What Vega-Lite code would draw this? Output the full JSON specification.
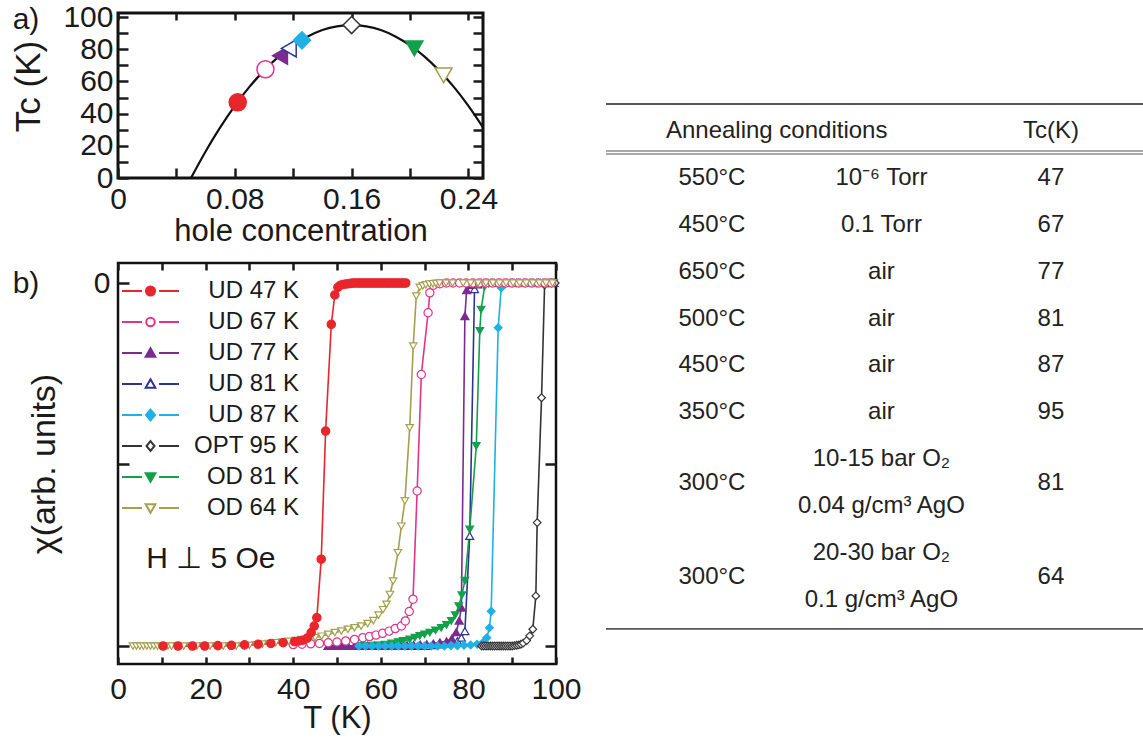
{
  "$schema": "https://vega.github.io/schema/vega-lite/v6.json",
  "padding": {"left": 10, "top": 0, "right": 0, "bottom": 0},
  "background": "white",
  "config": {
    "font": "Liberation Sans",
    "view": {"stroke": null},
    "axis": {"grid": false, "domain": false, "zindex": 1, "labelFont": "Liberation Sans", "titleFont": "Liberation Sans", "labelColor": "#1a1a1a", "titleColor": "#1a1a1a", "tickColor": "#1a1a1a", "tickWidth": 2.5, "labelFontSize": 30, "titleFontSize": 31, "titleFontWeight": "normal", "labelFlush": false, "labelOverlap": false},
    "legend": {"labelFont": "Liberation Sans", "labelFontSize": 24, "labelColor": "#1a1a1a"},
    "text": {"font": "Liberation Sans"}
  },
  "datasets": {
    "curve": [
      {"p": 0.05, "Tc": 0}, {"p": 0.06, "Tc": 16.5}, {"p": 0.07, "Tc": 31.4}, {"p": 0.08, "Tc": 44.8}, {"p": 0.09, "Tc": 56.6}, {"p": 0.1, "Tc": 66.7}, {"p": 0.11, "Tc": 75.4}, {"p": 0.12, "Tc": 82.4}, {"p": 0.13, "Tc": 87.9}, {"p": 0.14, "Tc": 91.9}, {"p": 0.15, "Tc": 94.2}, {"p": 0.16, "Tc": 95}, {"p": 0.17, "Tc": 94.2}, {"p": 0.18, "Tc": 91.9}, {"p": 0.19, "Tc": 87.9}, {"p": 0.2, "Tc": 82.4}, {"p": 0.21, "Tc": 75.4}, {"p": 0.22, "Tc": 66.7}, {"p": 0.23, "Tc": 56.6}, {"p": 0.24, "Tc": 44.8}, {"p": 0.25, "Tc": 31.4}
    ],
    "tc": [
      {"s": "UD 47 K", "p": 0.082, "Tc": 47}, {"s": "UD 67 K", "p": 0.101, "Tc": 67.5}, {"s": "UD 77 K", "p": 0.111, "Tc": 76}, {"s": "UD 81 K", "p": 0.117, "Tc": 80.5}, {"s": "UD 87 K", "p": 0.126, "Tc": 85.5}, {"s": "OPT 95 K", "p": 0.16, "Tc": 95}, {"s": "OD 81 K", "p": 0.203, "Tc": 80.5}, {"s": "OD 64 K", "p": 0.223, "Tc": 63.8}
    ],
    "series": [
      {"s": "UD 47 K"}, {"s": "UD 67 K"}, {"s": "UD 77 K"}, {"s": "UD 81 K"}, {"s": "UD 87 K"}, {"s": "OPT 95 K"}, {"s": "OD 81 K"}, {"s": "OD 64 K"}
    ],
    "notes": [
      {"T": 21.2, "c": -0.76, "t": "H ⊥ 5 Oe"}, {"T": -21, "c": -0.003, "t": "b)"}
    ],
    "table": [
      {"col": "temp", "line": 0, "text": "Annealing conditions"}, {"col": "tc", "line": 0, "text": "Tc(K)"},
      {"col": "temp", "line": 1, "text": "550°C"}, {"col": "cond", "line": 1, "text": "10⁻⁶ Torr"}, {"col": "tc", "line": 1, "text": "47"},
      {"col": "temp", "line": 2, "text": "450°C"}, {"col": "cond", "line": 2, "text": "0.1 Torr"}, {"col": "tc", "line": 2, "text": "67"},
      {"col": "temp", "line": 3, "text": "650°C"}, {"col": "cond", "line": 3, "text": "air"}, {"col": "tc", "line": 3, "text": "77"},
      {"col": "temp", "line": 4, "text": "500°C"}, {"col": "cond", "line": 4, "text": "air"}, {"col": "tc", "line": 4, "text": "81"},
      {"col": "temp", "line": 5, "text": "450°C"}, {"col": "cond", "line": 5, "text": "air"}, {"col": "tc", "line": 5, "text": "87"},
      {"col": "temp", "line": 6, "text": "350°C"}, {"col": "cond", "line": 6, "text": "air"}, {"col": "tc", "line": 6, "text": "95"},
      {"col": "temp", "line": 7.5, "text": "300°C"}, {"col": "cond", "line": 7, "text": "10-15 bar O₂"}, {"col": "cond", "line": 8, "text": "0.04 g/cm³ AgO"}, {"col": "tc", "line": 7.5, "text": "81"},
      {"col": "temp", "line": 9.5, "text": "300°C"}, {"col": "cond", "line": 9, "text": "20-30 bar O₂"}, {"col": "cond", "line": 10, "text": "0.1 g/cm³ AgO"}, {"col": "tc", "line": 9.5, "text": "64"}
    ],
    "chi": [
      {"s": "UD 81 K", "T": 48, "c": -1}, {"s": "UD 81 K", "T": 49.5, "c": -1}, {"s": "UD 81 K", "T": 51, "c": -1}, {"s": "UD 81 K", "T": 52.5, "c": -1}, {"s": "UD 81 K", "T": 54, "c": -1}, {"s": "UD 81 K", "T": 55.5, "c": -1}, {"s": "UD 81 K", "T": 57, "c": -1}, {"s": "UD 81 K", "T": 58.5, "c": -1}, {"s": "UD 81 K", "T": 60, "c": -1}, {"s": "UD 81 K", "T": 61.5, "c": -1}, {"s": "UD 81 K", "T": 63, "c": -1}, {"s": "UD 81 K", "T": 64.5, "c": -1}, {"s": "UD 81 K", "T": 66, "c": -1}, {"s": "UD 81 K", "T": 67.5, "c": -1}, {"s": "UD 81 K", "T": 69, "c": -1}, {"s": "UD 81 K", "T": 70.5, "c": -1}, {"s": "UD 81 K", "T": 72, "c": -0.998}, {"s": "UD 81 K", "T": 73.5, "c": -0.996}, {"s": "UD 81 K", "T": 75, "c": -0.993}, {"s": "UD 81 K", "T": 76.5, "c": -0.99}, {"s": "UD 81 K", "T": 77.5, "c": -0.986}, {"s": "UD 81 K", "T": 78.4, "c": -0.977}, {"s": "UD 81 K", "T": 79.2, "c": -0.959}, {"s": "UD 81 K", "T": 80.3, "c": -0.697}, {"s": "UD 81 K", "T": 81.4, "c": -0.017}, {"s": "UD 81 K", "T": 82.1, "c": -0.004}, {"s": "UD 81 K", "T": 83.5, "c": 0}, {"s": "UD 81 K", "T": 85, "c": 0}, {"s": "UD 81 K", "T": 86.5, "c": 0}, {"s": "UD 81 K", "T": 88, "c": 0}, {"s": "UD 81 K", "T": 89.5, "c": 0}, {"s": "UD 81 K", "T": 91, "c": 0}, {"s": "UD 81 K", "T": 92.5, "c": 0}, {"s": "UD 81 K", "T": 94, "c": 0}, {"s": "UD 81 K", "T": 95.5, "c": 0}, {"s": "UD 81 K", "T": 97, "c": 0}, {"s": "UD 81 K", "T": 98.5, "c": 0}, {"s": "UD 81 K", "T": 99.5, "c": 0},
      {"s": "UD 77 K", "T": 48, "c": -1}, {"s": "UD 77 K", "T": 49.5, "c": -1}, {"s": "UD 77 K", "T": 51, "c": -1}, {"s": "UD 77 K", "T": 52.5, "c": -1}, {"s": "UD 77 K", "T": 54, "c": -1}, {"s": "UD 77 K", "T": 55.5, "c": -1}, {"s": "UD 77 K", "T": 57, "c": -1}, {"s": "UD 77 K", "T": 58.5, "c": -1}, {"s": "UD 77 K", "T": 60, "c": -1}, {"s": "UD 77 K", "T": 61.5, "c": -1}, {"s": "UD 77 K", "T": 63, "c": -1}, {"s": "UD 77 K", "T": 64.5, "c": -0.999}, {"s": "UD 77 K", "T": 66, "c": -0.998}, {"s": "UD 77 K", "T": 67.5, "c": -0.997}, {"s": "UD 77 K", "T": 69, "c": -0.996}, {"s": "UD 77 K", "T": 70.5, "c": -0.995}, {"s": "UD 77 K", "T": 72, "c": -0.993}, {"s": "UD 77 K", "T": 73.5, "c": -0.99}, {"s": "UD 77 K", "T": 75, "c": -0.987}, {"s": "UD 77 K", "T": 76.2, "c": -0.98}, {"s": "UD 77 K", "T": 77.2, "c": -0.962}, {"s": "UD 77 K", "T": 77.9, "c": -0.93}, {"s": "UD 77 K", "T": 78.4, "c": -0.894}, {"s": "UD 77 K", "T": 79.2, "c": -0.091}, {"s": "UD 77 K", "T": 79.6, "c": -0.02}, {"s": "UD 77 K", "T": 80.3, "c": -0.005}, {"s": "UD 77 K", "T": 81.5, "c": 0}, {"s": "UD 77 K", "T": 83, "c": 0}, {"s": "UD 77 K", "T": 84.5, "c": 0}, {"s": "UD 77 K", "T": 86, "c": 0}, {"s": "UD 77 K", "T": 87.5, "c": 0}, {"s": "UD 77 K", "T": 89, "c": 0}, {"s": "UD 77 K", "T": 90.5, "c": 0}, {"s": "UD 77 K", "T": 92, "c": 0}, {"s": "UD 77 K", "T": 93.5, "c": 0}, {"s": "UD 77 K", "T": 95, "c": 0}, {"s": "UD 77 K", "T": 96.5, "c": 0}, {"s": "UD 77 K", "T": 98, "c": 0}, {"s": "UD 77 K", "T": 99.5, "c": 0},
      {"s": "OD 81 K", "T": 55, "c": -1}, {"s": "OD 81 K", "T": 56.5, "c": -1}, {"s": "OD 81 K", "T": 58, "c": -0.999}, {"s": "OD 81 K", "T": 59.5, "c": -0.998}, {"s": "OD 81 K", "T": 61, "c": -0.996}, {"s": "OD 81 K", "T": 62.5, "c": -0.993}, {"s": "OD 81 K", "T": 64, "c": -0.989}, {"s": "OD 81 K", "T": 65.1, "c": -0.986}, {"s": "OD 81 K", "T": 66.6, "c": -0.982}, {"s": "OD 81 K", "T": 67.8, "c": -0.977}, {"s": "OD 81 K", "T": 68.9, "c": -0.972}, {"s": "OD 81 K", "T": 70, "c": -0.968}, {"s": "OD 81 K", "T": 71.2, "c": -0.963}, {"s": "OD 81 K", "T": 72.5, "c": -0.957}, {"s": "OD 81 K", "T": 73.8, "c": -0.95}, {"s": "OD 81 K", "T": 75, "c": -0.942}, {"s": "OD 81 K", "T": 76.1, "c": -0.931}, {"s": "OD 81 K", "T": 77, "c": -0.915}, {"s": "OD 81 K", "T": 77.8, "c": -0.89}, {"s": "OD 81 K", "T": 78.5, "c": -0.86}, {"s": "OD 81 K", "T": 79.2, "c": -0.82}, {"s": "OD 81 K", "T": 80.3, "c": -0.679}, {"s": "OD 81 K", "T": 81.8, "c": -0.449}, {"s": "OD 81 K", "T": 82.6, "c": -0.132}, {"s": "OD 81 K", "T": 82.9, "c": -0.073}, {"s": "OD 81 K", "T": 83.7, "c": -0.01}, {"s": "OD 81 K", "T": 84.6, "c": -0.002}, {"s": "OD 81 K", "T": 86, "c": 0}, {"s": "OD 81 K", "T": 87.5, "c": 0}, {"s": "OD 81 K", "T": 89, "c": 0}, {"s": "OD 81 K", "T": 90.5, "c": 0}, {"s": "OD 81 K", "T": 92, "c": 0}, {"s": "OD 81 K", "T": 93.5, "c": 0}, {"s": "OD 81 K", "T": 95, "c": 0}, {"s": "OD 81 K", "T": 96.5, "c": 0}, {"s": "OD 81 K", "T": 98, "c": 0}, {"s": "OD 81 K", "T": 99.5, "c": 0},
      {"s": "UD 87 K", "T": 55, "c": -1}, {"s": "UD 87 K", "T": 56.5, "c": -1}, {"s": "UD 87 K", "T": 58, "c": -1}, {"s": "UD 87 K", "T": 59.5, "c": -1}, {"s": "UD 87 K", "T": 61, "c": -1}, {"s": "UD 87 K", "T": 62.5, "c": -1}, {"s": "UD 87 K", "T": 64, "c": -1}, {"s": "UD 87 K", "T": 65.5, "c": -1}, {"s": "UD 87 K", "T": 67, "c": -1}, {"s": "UD 87 K", "T": 68.5, "c": -1}, {"s": "UD 87 K", "T": 70, "c": -1}, {"s": "UD 87 K", "T": 71.5, "c": -1}, {"s": "UD 87 K", "T": 73, "c": -1}, {"s": "UD 87 K", "T": 74.5, "c": -1}, {"s": "UD 87 K", "T": 76, "c": -0.999}, {"s": "UD 87 K", "T": 77.5, "c": -0.999}, {"s": "UD 87 K", "T": 79, "c": -0.998}, {"s": "UD 87 K", "T": 80.5, "c": -0.997}, {"s": "UD 87 K", "T": 82, "c": -0.995}, {"s": "UD 87 K", "T": 83.3, "c": -0.991}, {"s": "UD 87 K", "T": 84.2, "c": -0.977}, {"s": "UD 87 K", "T": 84.8, "c": -0.95}, {"s": "UD 87 K", "T": 85.2, "c": -0.904}, {"s": "UD 87 K", "T": 86.8, "c": -0.123}, {"s": "UD 87 K", "T": 87.5, "c": -0.013}, {"s": "UD 87 K", "T": 88.3, "c": -0.003}, {"s": "UD 87 K", "T": 89.5, "c": 0}, {"s": "UD 87 K", "T": 91, "c": 0}, {"s": "UD 87 K", "T": 92.5, "c": 0}, {"s": "UD 87 K", "T": 94, "c": 0}, {"s": "UD 87 K", "T": 95.5, "c": 0}, {"s": "UD 87 K", "T": 97, "c": 0}, {"s": "UD 87 K", "T": 98.5, "c": 0}, {"s": "UD 87 K", "T": 99.7, "c": 0},
      {"s": "OPT 95 K", "T": 83, "c": -1}, {"s": "OPT 95 K", "T": 83.5, "c": -1}, {"s": "OPT 95 K", "T": 84, "c": -1}, {"s": "OPT 95 K", "T": 84.5, "c": -1}, {"s": "OPT 95 K", "T": 85, "c": -1}, {"s": "OPT 95 K", "T": 85.5, "c": -1}, {"s": "OPT 95 K", "T": 86, "c": -1}, {"s": "OPT 95 K", "T": 86.5, "c": -1}, {"s": "OPT 95 K", "T": 87, "c": -1}, {"s": "OPT 95 K", "T": 87.5, "c": -1}, {"s": "OPT 95 K", "T": 88, "c": -1}, {"s": "OPT 95 K", "T": 88.5, "c": -1}, {"s": "OPT 95 K", "T": 89, "c": -1}, {"s": "OPT 95 K", "T": 89.5, "c": -1}, {"s": "OPT 95 K", "T": 90, "c": -1}, {"s": "OPT 95 K", "T": 90.5, "c": -0.999}, {"s": "OPT 95 K", "T": 91, "c": -0.998}, {"s": "OPT 95 K", "T": 91.5, "c": -0.997}, {"s": "OPT 95 K", "T": 92, "c": -0.995}, {"s": "OPT 95 K", "T": 92.5, "c": -0.992}, {"s": "OPT 95 K", "T": 93.3, "c": -0.985}, {"s": "OPT 95 K", "T": 94, "c": -0.972}, {"s": "OPT 95 K", "T": 94.7, "c": -0.954}, {"s": "OPT 95 K", "T": 95.4, "c": -0.862}, {"s": "OPT 95 K", "T": 95.7, "c": -0.66}, {"s": "OPT 95 K", "T": 96.7, "c": -0.316}, {"s": "OPT 95 K", "T": 97.4, "c": -0.005}, {"s": "OPT 95 K", "T": 98.2, "c": 0}, {"s": "OPT 95 K", "T": 99, "c": 0}, {"s": "OPT 95 K", "T": 99.8, "c": 0},
      {"s": "UD 67 K", "T": 40, "c": -0.996}, {"s": "UD 67 K", "T": 42, "c": -0.995}, {"s": "UD 67 K", "T": 44, "c": -0.994}, {"s": "UD 67 K", "T": 46, "c": -0.993}, {"s": "UD 67 K", "T": 48, "c": -0.991}, {"s": "UD 67 K", "T": 50, "c": -0.989}, {"s": "UD 67 K", "T": 52, "c": -0.986}, {"s": "UD 67 K", "T": 54, "c": -0.982}, {"s": "UD 67 K", "T": 55.9, "c": -0.977}, {"s": "UD 67 K", "T": 57.4, "c": -0.974}, {"s": "UD 67 K", "T": 58.9, "c": -0.97}, {"s": "UD 67 K", "T": 60.4, "c": -0.965}, {"s": "UD 67 K", "T": 61.9, "c": -0.959}, {"s": "UD 67 K", "T": 63.3, "c": -0.952}, {"s": "UD 67 K", "T": 64.7, "c": -0.945}, {"s": "UD 67 K", "T": 65.6, "c": -0.931}, {"s": "UD 67 K", "T": 66.5, "c": -0.905}, {"s": "UD 67 K", "T": 67.35, "c": -0.871}, {"s": "UD 67 K", "T": 68.3, "c": -0.573}, {"s": "UD 67 K", "T": 69.25, "c": -0.252}, {"s": "UD 67 K", "T": 70.8, "c": -0.082}, {"s": "UD 67 K", "T": 71.2, "c": -0.027}, {"s": "UD 67 K", "T": 72, "c": -0.006}, {"s": "UD 67 K", "T": 73.5, "c": -0.002}, {"s": "UD 67 K", "T": 75, "c": 0}, {"s": "UD 67 K", "T": 76.5, "c": 0}, {"s": "UD 67 K", "T": 78, "c": 0}, {"s": "UD 67 K", "T": 79.5, "c": 0}, {"s": "UD 67 K", "T": 81, "c": 0}, {"s": "UD 67 K", "T": 82.5, "c": 0}, {"s": "UD 67 K", "T": 84, "c": 0}, {"s": "UD 67 K", "T": 85.5, "c": 0}, {"s": "UD 67 K", "T": 87, "c": 0}, {"s": "UD 67 K", "T": 88.5, "c": 0}, {"s": "UD 67 K", "T": 90, "c": 0}, {"s": "UD 67 K", "T": 91.5, "c": 0}, {"s": "UD 67 K", "T": 93, "c": 0}, {"s": "UD 67 K", "T": 94.5, "c": 0}, {"s": "UD 67 K", "T": 96, "c": 0}, {"s": "UD 67 K", "T": 97.5, "c": 0}, {"s": "UD 67 K", "T": 99, "c": 0},
      {"s": "OD 64 K", "T": 3.4, "c": -1}, {"s": "OD 64 K", "T": 4.2, "c": -1}, {"s": "OD 64 K", "T": 5, "c": -1}, {"s": "OD 64 K", "T": 5.8, "c": -1}, {"s": "OD 64 K", "T": 6.6, "c": -1}, {"s": "OD 64 K", "T": 7.4, "c": -1}, {"s": "OD 64 K", "T": 8.2, "c": -1}, {"s": "OD 64 K", "T": 9, "c": -1}, {"s": "OD 64 K", "T": 9.8, "c": -1}, {"s": "OD 64 K", "T": 10.6, "c": -1}, {"s": "OD 64 K", "T": 11.4, "c": -1}, {"s": "OD 64 K", "T": 12.2, "c": -1}, {"s": "OD 64 K", "T": 13.5, "c": -1}, {"s": "OD 64 K", "T": 15, "c": -1}, {"s": "OD 64 K", "T": 16.5, "c": -1}, {"s": "OD 64 K", "T": 18, "c": -1}, {"s": "OD 64 K", "T": 19.5, "c": -1}, {"s": "OD 64 K", "T": 21, "c": -1}, {"s": "OD 64 K", "T": 22.5, "c": -1}, {"s": "OD 64 K", "T": 24, "c": -1}, {"s": "OD 64 K", "T": 25.5, "c": -1}, {"s": "OD 64 K", "T": 27, "c": -1}, {"s": "OD 64 K", "T": 28.5, "c": -0.999}, {"s": "OD 64 K", "T": 30, "c": -0.998}, {"s": "OD 64 K", "T": 31.5, "c": -0.997}, {"s": "OD 64 K", "T": 33, "c": -0.995}, {"s": "OD 64 K", "T": 34.5, "c": -0.993}, {"s": "OD 64 K", "T": 36, "c": -0.991}, {"s": "OD 64 K", "T": 37.5, "c": -0.989}, {"s": "OD 64 K", "T": 39, "c": -0.987}, {"s": "OD 64 K", "T": 40.5, "c": -0.985}, {"s": "OD 64 K", "T": 42, "c": -0.982}, {"s": "OD 64 K", "T": 43.5, "c": -0.98}, {"s": "OD 64 K", "T": 45, "c": -0.977}, {"s": "OD 64 K", "T": 46.5, "c": -0.973}, {"s": "OD 64 K", "T": 48, "c": -0.968}, {"s": "OD 64 K", "T": 49.5, "c": -0.963}, {"s": "OD 64 K", "T": 51, "c": -0.959}, {"s": "OD 64 K", "T": 52.5, "c": -0.954}, {"s": "OD 64 K", "T": 54, "c": -0.95}, {"s": "OD 64 K", "T": 55.5, "c": -0.945}, {"s": "OD 64 K", "T": 57, "c": -0.938}, {"s": "OD 64 K", "T": 58.3, "c": -0.93}, {"s": "OD 64 K", "T": 59.5, "c": -0.915}, {"s": "OD 64 K", "T": 60.5, "c": -0.9}, {"s": "OD 64 K", "T": 61.3, "c": -0.885}, {"s": "OD 64 K", "T": 62.1, "c": -0.858}, {"s": "OD 64 K", "T": 62.8, "c": -0.821}, {"s": "OD 64 K", "T": 63.9, "c": -0.743}, {"s": "OD 64 K", "T": 64.7, "c": -0.67}, {"s": "OD 64 K", "T": 65.5, "c": -0.6}, {"s": "OD 64 K", "T": 66.6, "c": -0.399}, {"s": "OD 64 K", "T": 67.4, "c": -0.174}, {"s": "OD 64 K", "T": 68.1, "c": -0.036}, {"s": "OD 64 K", "T": 68.9, "c": -0.012}, {"s": "OD 64 K", "T": 69.6, "c": -0.008}, {"s": "OD 64 K", "T": 70.3, "c": -0.005}, {"s": "OD 64 K", "T": 71.1, "c": -0.003}, {"s": "OD 64 K", "T": 71.9, "c": -0.002}, {"s": "OD 64 K", "T": 72.6, "c": -0.001}, {"s": "OD 64 K", "T": 73.4, "c": 0}, {"s": "OD 64 K", "T": 74.9, "c": 0}, {"s": "OD 64 K", "T": 76.4, "c": 0}, {"s": "OD 64 K", "T": 78.8, "c": 0}, {"s": "OD 64 K", "T": 80.5, "c": 0}, {"s": "OD 64 K", "T": 82.2, "c": 0}, {"s": "OD 64 K", "T": 84, "c": 0}, {"s": "OD 64 K", "T": 85.6, "c": 0}, {"s": "OD 64 K", "T": 87.1, "c": 0}, {"s": "OD 64 K", "T": 88.6, "c": 0}, {"s": "OD 64 K", "T": 90.2, "c": 0}, {"s": "OD 64 K", "T": 91.7, "c": 0}, {"s": "OD 64 K", "T": 93.2, "c": 0}, {"s": "OD 64 K", "T": 94.7, "c": 0}, {"s": "OD 64 K", "T": 96.2, "c": 0}, {"s": "OD 64 K", "T": 97.7, "c": 0}, {"s": "OD 64 K", "T": 99.2, "c": 0},
      {"s": "UD 47 K", "T": 10.3, "c": -1}, {"s": "UD 47 K", "T": 13.7, "c": -1}, {"s": "UD 47 K", "T": 17, "c": -1}, {"s": "UD 47 K", "T": 19.8, "c": -1}, {"s": "UD 47 K", "T": 22.8, "c": -0.999}, {"s": "UD 47 K", "T": 25.9, "c": -0.998}, {"s": "UD 47 K", "T": 28.9, "c": -0.997}, {"s": "UD 47 K", "T": 32, "c": -0.995}, {"s": "UD 47 K", "T": 34.9, "c": -0.993}, {"s": "UD 47 K", "T": 37.7, "c": -0.991}, {"s": "UD 47 K", "T": 40.3, "c": -0.988}, {"s": "UD 47 K", "T": 41.3, "c": -0.986}, {"s": "UD 47 K", "T": 42.2, "c": -0.984}, {"s": "UD 47 K", "T": 43.2, "c": -0.978}, {"s": "UD 47 K", "T": 44.1, "c": -0.963}, {"s": "UD 47 K", "T": 44.8, "c": -0.945}, {"s": "UD 47 K", "T": 45.4, "c": -0.922}, {"s": "UD 47 K", "T": 46.4, "c": -0.761}, {"s": "UD 47 K", "T": 47.4, "c": -0.408}, {"s": "UD 47 K", "T": 48.7, "c": -0.114}, {"s": "UD 47 K", "T": 49.5, "c": -0.033}, {"s": "UD 47 K", "T": 50.2, "c": -0.012}, {"s": "UD 47 K", "T": 50.8, "c": -0.006}, {"s": "UD 47 K", "T": 51.4, "c": -0.004}, {"s": "UD 47 K", "T": 52, "c": -0.003}, {"s": "UD 47 K", "T": 52.6, "c": -0.002}, {"s": "UD 47 K", "T": 53.1, "c": -0.001}, {"s": "UD 47 K", "T": 53.7, "c": 0}, {"s": "UD 47 K", "T": 54.2, "c": 0}, {"s": "UD 47 K", "T": 54.8, "c": 0}, {"s": "UD 47 K", "T": 55.3, "c": 0}, {"s": "UD 47 K", "T": 55.9, "c": 0}, {"s": "UD 47 K", "T": 56.4, "c": 0}, {"s": "UD 47 K", "T": 57, "c": 0}, {"s": "UD 47 K", "T": 57.5, "c": 0}, {"s": "UD 47 K", "T": 58.1, "c": 0}, {"s": "UD 47 K", "T": 58.6, "c": 0}, {"s": "UD 47 K", "T": 59.2, "c": 0}, {"s": "UD 47 K", "T": 59.7, "c": 0}, {"s": "UD 47 K", "T": 60.3, "c": 0}, {"s": "UD 47 K", "T": 60.8, "c": 0}, {"s": "UD 47 K", "T": 61.4, "c": 0}, {"s": "UD 47 K", "T": 61.9, "c": 0}, {"s": "UD 47 K", "T": 62.5, "c": 0}, {"s": "UD 47 K", "T": 63, "c": 0}, {"s": "UD 47 K", "T": 63.6, "c": 0}, {"s": "UD 47 K", "T": 64.1, "c": 0}, {"s": "UD 47 K", "T": 64.7, "c": 0}, {"s": "UD 47 K", "T": 65.2, "c": 0}, {"s": "UD 47 K", "T": 65.7, "c": 0}
    ]
  },
  "hconcat": [
    {
      "vconcat": [
        {
          "width": 365,
          "height": 165,
          "view": {"stroke": "#111", "strokeWidth": 3},
          "layer": [
            {
              "data": {"name": "curve"},
              "mark": {"type": "line", "color": "#111", "strokeWidth": 2.2, "interpolate": "monotone"},
              "encoding": {
                "x": {"field": "p", "type": "quantitative", "scale": {"domain": [0, 0.25], "nice": false, "zero": false},
                  "axis": {"orient": "bottom", "values": [0, 0.04, 0.08, 0.12, 0.16, 0.2, 0.24], "labelExpr": "datum.value == 0 ? '0' : (indexof([0.08, 0.16, 0.24], datum.value) >= 0 ? format(datum.value, '.2f') : '')", "offset": -10, "tickSize": 10, "labelPadding": 6, "title": "hole concentration", "titlePadding": 2}},
                "y": {"field": "Tc", "type": "quantitative", "scale": {"domain": [0, 102.5], "nice": false, "zero": false},
                  "axis": {"orient": "left", "values": [0, 10, 20, 30, 40, 50, 60, 70, 80, 90, 100], "labelExpr": "datum.value % 20 == 0 ? datum.label : ''", "offset": -10, "tickSize": 10, "labelPadding": 5, "title": "Tc (K)", "titleFontSize": 35, "titlePadding": 16, "titleY": 73}}
              }
            },
            {
              "data": {"name": "tc"},
              "mark": {"type": "point", "strokeWidth": 1.5, "opacity": 1},
              "encoding": {
                "x": {"field": "p", "type": "quantitative", "scale": {"domain": [0, 0.25], "nice": false, "zero": false},
                  "axis": {"orient": "top", "values": [0, 0.04, 0.08, 0.12, 0.16, 0.2, 0.24], "labels": false, "offset": -7, "tickSize": 7, "title": null}},
                "y": {"field": "Tc", "type": "quantitative", "scale": {"domain": [0, 102.5], "nice": false, "zero": false},
                  "axis": {"orient": "right", "values": [0, 10, 20, 30, 40, 50, 60, 70, 80, 90, 100], "labels": false, "offset": -10, "tickSize": 10, "title": null}},
                "shape": {"field": "s", "type": "nominal", "scale": {"domain": ["UD 47 K", "UD 67 K", "UD 77 K", "UD 81 K", "UD 87 K", "OPT 95 K", "OD 81 K", "OD 64 K"], "range": ["circle", "circle", "triangle-left", "triangle-left", "diamond", "diamond", "triangle-down", "triangle-down"]}, "legend": null},
                "fill": {"field": "s", "type": "nominal", "scale": {"domain": ["UD 47 K", "UD 67 K", "UD 77 K", "UD 81 K", "UD 87 K", "OPT 95 K", "OD 81 K", "OD 64 K"], "range": ["#e8262b", "#ffffff", "#7b2a90", "#ffffff", "#1fb0e6", "#ffffff", "#14a04a", "#ffffff"]}, "legend": null},
                "stroke": {"field": "s", "type": "nominal", "scale": {"domain": ["UD 47 K", "UD 67 K", "UD 77 K", "UD 81 K", "UD 87 K", "OPT 95 K", "OD 81 K", "OD 64 K"], "range": ["#e8262b", "#e2338c", "#7b2a90", "#2b3590", "#1fb0e6", "#333333", "#14a04a", "#a3a04e"]}, "legend": null},
                "size": {"field": "s", "type": "nominal", "scale": {"domain": ["UD 47 K", "UD 67 K", "UD 77 K", "UD 81 K", "UD 87 K", "OPT 95 K", "OD 81 K", "OD 64 K"], "range": [290, 290, 400, 400, 480, 420, 460, 420]}, "legend": null}
              }
            },
            {
              "data": {"values": [{"p": -0.063, "Tc": 98, "t": "a)"}]},
              "mark": {"type": "text", "fontSize": 30, "color": "#1a1a1a"},
              "encoding": {
                "x": {"field": "p", "type": "quantitative", "scale": {"domain": [0, 0.25], "nice": false, "zero": false}, "axis": null},
                "y": {"field": "Tc", "type": "quantitative", "scale": {"domain": [0, 102.5], "nice": false, "zero": false}, "axis": null},
                "text": {"field": "t"}
              }
            }
          ],
          "resolve": {"axis": {"x": "independent", "y": "independent"}}
        },
        {
          "width": 438,
          "height": 401,
          "view": {"stroke": "#111", "strokeWidth": 2.5},
          "layer": [
            {
              "data": {"name": "chi"},
              "mark": {"type": "line", "strokeWidth": 1.6},
              "encoding": {
                "x": {"field": "T", "type": "quantitative", "scale": {"domain": [0, 100], "nice": false, "zero": false},
                  "axis": {"orient": "bottom", "values": [0, 10, 20, 30, 40, 50, 60, 70, 80, 90, 100], "labelExpr": "datum.value % 20 == 0 ? datum.label : ''", "offset": -7, "tickSize": 7, "labelPadding": 10, "title": "T (K)", "titlePadding": -1}},
                "y": {"field": "c", "type": "quantitative", "scale": {"domain": [-1.0496, 0.0551], "nice": false, "zero": false},
                  "axis": {"orient": "left", "values": [-1, -0.5, 0], "labelExpr": "datum.value == 0 ? '0' : ''", "offset": -11, "tickSize": 11, "labelPadding": 8, "title": "χ(arb. units)", "titleFontSize": 34, "titlePadding": 32}},
                "stroke": {"field": "s", "type": "nominal", "scale": {"domain": ["UD 47 K", "UD 67 K", "UD 77 K", "UD 81 K", "UD 87 K", "OPT 95 K", "OD 81 K", "OD 64 K"], "range": ["#e8262b", "#e2338c", "#7b2a90", "#2b3590", "#1fb0e6", "#333333", "#14a04a", "#a3a04e"]}, "legend": null}
              }
            },
            {
              "data": {"name": "chi"},
              "mark": {"type": "point", "strokeWidth": 1.2, "opacity": 1},
              "encoding": {
                "x": {"field": "T", "type": "quantitative", "scale": {"domain": [0, 100], "nice": false, "zero": false},
                  "axis": {"orient": "top", "values": [0, 10, 20, 30, 40, 50, 60, 70, 80, 90, 100], "labels": false, "offset": -7, "tickSize": 7, "title": null}},
                "y": {"field": "c", "type": "quantitative", "scale": {"domain": [-1.0496, 0.0551], "nice": false, "zero": false},
                  "axis": {"orient": "right", "values": [-1, -0.5, 0], "labels": false, "offset": -11, "tickSize": 11, "title": null}},
                "shape": {"field": "s", "type": "nominal", "scale": {"domain": ["UD 47 K", "UD 67 K", "UD 77 K", "UD 81 K", "UD 87 K", "OPT 95 K", "OD 81 K", "OD 64 K"], "range": ["circle", "circle", "triangle-up", "triangle-up", "diamond", "diamond", "triangle-down", "triangle-down"]}, "legend": null},
                "fill": {"field": "s", "type": "nominal", "scale": {"domain": ["UD 47 K", "UD 67 K", "UD 77 K", "UD 81 K", "UD 87 K", "OPT 95 K", "OD 81 K", "OD 64 K"], "range": ["#e8262b", "#ffffff", "#7b2a90", "#ffffff", "#1fb0e6", "#ffffff", "#14a04a", "#ffffff"]}, "legend": null},
                "stroke": {"field": "s", "type": "nominal", "scale": {"domain": ["UD 47 K", "UD 67 K", "UD 77 K", "UD 81 K", "UD 87 K", "OPT 95 K", "OD 81 K", "OD 64 K"], "range": ["#e8262b", "#e2338c", "#7b2a90", "#2b3590", "#1fb0e6", "#333333", "#14a04a", "#a3a04e"]}, "legend": null},
                "size": {"field": "s", "type": "nominal", "scale": {"domain": ["UD 47 K", "UD 67 K", "UD 77 K", "UD 81 K", "UD 87 K", "OPT 95 K", "OD 81 K", "OD 64 K"], "range": [70, 55, 80, 80, 80, 70, 80, 80]}, "legend": null}
              }
            },
            {
              "data": {"name": "series"},
              "mark": {"type": "point", "opacity": 0, "size": 1},
              "encoding": {
                "shape": {"field": "s", "type": "nominal", "scale": {"domain": ["UD 47 K", "UD 67 K", "UD 77 K", "UD 81 K", "UD 87 K", "OPT 95 K", "OD 81 K", "OD 64 K"], "range": [
                    "M-1,0H-0.3M0.3,0H1M-0.16,0A0.16,0.16,0,1,0,0.16,0A0.16,0.16,0,1,0,-0.16,0Z",
                    "M-1,0H-0.3M0.3,0H1M-0.15,0A0.15,0.15,0,1,0,0.15,0A0.15,0.15,0,1,0,-0.15,0Z",
                    "M-1,0H-0.3M0.3,0H1M0,-0.17L0.17,0.13L-0.17,0.13Z",
                    "M-1,0H-0.3M0.3,0H1M0,-0.17L0.17,0.13L-0.17,0.13Z",
                    "M-1,0H-0.3M0.3,0H1M0,-0.19L0.16,0L0,0.19L-0.16,0Z",
                    "M-1,0H-0.3M0.3,0H1M0,-0.17L0.14,0L0,0.17L-0.14,0Z",
                    "M-1,0H-0.3M0.3,0H1M0,0.17L0.17,-0.13L-0.17,-0.13Z",
                    "M-1,0H-0.3M0.3,0H1M0,0.17L0.17,-0.13L-0.17,-0.13Z"
                  ]},
                  "legend": {"orient": "none", "legendX": 3, "legendY": 18, "title": null, "padding": 0, "symbolSize": 3249, "symbolStrokeWidth": 2, "symbolOpacity": 1, "clipHeight": 20, "rowPadding": 7, "labelOffset": 119, "labelAlign": "right", "labelFontSize": 24}},
                "fill": {"field": "s", "type": "nominal", "scale": {"domain": ["UD 47 K", "UD 67 K", "UD 77 K", "UD 81 K", "UD 87 K", "OPT 95 K", "OD 81 K", "OD 64 K"], "range": ["#e8262b", "#ffffff", "#7b2a90", "#ffffff", "#1fb0e6", "#ffffff", "#14a04a", "#ffffff"]},
                  "legend": {"orient": "none", "legendX": 3, "legendY": 18, "title": null, "padding": 0, "symbolSize": 3249, "symbolStrokeWidth": 2, "symbolOpacity": 1, "clipHeight": 20, "rowPadding": 7, "labelOffset": 119, "labelAlign": "right", "labelFontSize": 24}},
                "stroke": {"field": "s", "type": "nominal", "scale": {"domain": ["UD 47 K", "UD 67 K", "UD 77 K", "UD 81 K", "UD 87 K", "OPT 95 K", "OD 81 K", "OD 64 K"], "range": ["#e8262b", "#e2338c", "#7b2a90", "#2b3590", "#1fb0e6", "#333333", "#14a04a", "#a3a04e"]},
                  "legend": {"orient": "none", "legendX": 3, "legendY": 18, "title": null, "padding": 0, "symbolSize": 3249, "symbolStrokeWidth": 2, "symbolOpacity": 1, "clipHeight": 20, "rowPadding": 7, "labelOffset": 119, "labelAlign": "right", "labelFontSize": 24}}
              }
            },
            {
              "data": {"name": "notes"},
              "mark": {"type": "text", "fontSize": 30, "color": "#1a1a1a"},
              "encoding": {
                "x": {"field": "T", "type": "quantitative", "scale": {"domain": [0, 100], "nice": false, "zero": false}, "axis": null},
                "y": {"field": "c", "type": "quantitative", "scale": {"domain": [-1.0496, 0.0551], "nice": false, "zero": false}, "axis": null},
                "text": {"field": "t"}
              }
            }
          ],
          "resolve": {"axis": {"x": "independent", "y": "independent"}, "scale": {"shape": "independent"}, "legend": {"stroke": "independent", "fill": "independent", "shape": "independent", "size": "independent"}}
        }
      ],
      "spacing": 12,
      "resolve": {"scale": {"stroke": "independent", "fill": "independent", "shape": "independent", "size": "independent"}}
    },
    {
      "width": 538,
      "height": 651,
      "view": {"stroke": null},
      "layer": [
        {
          "data": {"values": [{}]},
          "mark": {"type": "rule", "color": "#555555", "strokeWidth": 1.8},
          "encoding": {"y": {"datum": -0.576, "type": "quantitative", "scale": {"domain": [-2.516, 11.365], "reverse": true, "nice": false, "zero": false}, "axis": null}}
        },
        {
          "data": {"values": [{}]},
          "mark": {"type": "rule", "color": "#555555", "strokeWidth": 1.2},
          "encoding": {"y": {"datum": 0.426, "type": "quantitative", "scale": {"domain": [-2.516, 11.365], "reverse": true, "nice": false, "zero": false}, "axis": null}}
        },
        {
          "data": {"values": [{}]},
          "mark": {"type": "rule", "color": "#555555", "strokeWidth": 1.2},
          "encoding": {"y": {"datum": 0.49, "type": "quantitative", "scale": {"domain": [-2.516, 11.365], "reverse": true, "nice": false, "zero": false}, "axis": null}}
        },
        {
          "data": {"values": [{}]},
          "mark": {"type": "rule", "color": "#555555", "strokeWidth": 1.8},
          "encoding": {"y": {"datum": 10.618, "type": "quantitative", "scale": {"domain": [-2.516, 11.365], "reverse": true, "nice": false, "zero": false}, "axis": null}}
        },
        {
          "data": {"name": "table"},
          "transform": [{"filter": "datum.line > 0"}],
          "mark": {"type": "text", "fontSize": 24, "color": "#222222", "baseline": "middle"},
          "encoding": {
            "x": {"field": "col", "type": "nominal", "scale": {"type": "band", "domain": ["temp", "cond", "tc"], "paddingInner": 0.8, "paddingOuter": 0.487, "align": 0.539}, "axis": null},
            "y": {"field": "line", "type": "quantitative", "scale": {"domain": [-2.516, 11.365], "reverse": true, "nice": false, "zero": false}, "axis": null},
            "text": {"field": "text"}
          }
        },
        {
          "data": {"name": "table"},
          "transform": [{"filter": "datum.line == 0 && datum.col == 'temp'"}],
          "mark": {"type": "text", "fontSize": 24, "color": "#222222", "baseline": "middle", "align": "left", "dx": -46},
          "encoding": {
            "x": {"field": "col", "type": "nominal", "scale": {"type": "band", "domain": ["temp", "cond", "tc"], "paddingInner": 0.8, "paddingOuter": 0.487, "align": 0.539}, "axis": null},
            "y": {"field": "line", "type": "quantitative", "scale": {"domain": [-2.516, 11.365], "reverse": true, "nice": false, "zero": false}, "axis": null},
            "text": {"field": "text"}
          }
        },
        {
          "data": {"name": "table"},
          "transform": [{"filter": "datum.line == 0 && datum.col == 'tc'"}],
          "mark": {"type": "text", "fontSize": 24, "color": "#222222", "baseline": "middle"},
          "encoding": {
            "x": {"field": "col", "type": "nominal", "scale": {"type": "band", "domain": ["temp", "cond", "tc"], "paddingInner": 0.8, "paddingOuter": 0.487, "align": 0.539}, "axis": null},
            "y": {"field": "line", "type": "quantitative", "scale": {"domain": [-2.516, 11.365], "reverse": true, "nice": false, "zero": false}, "axis": null},
            "text": {"field": "text"}
          }
        }
      ]
    }
  ],
  "spacing": 22
}
